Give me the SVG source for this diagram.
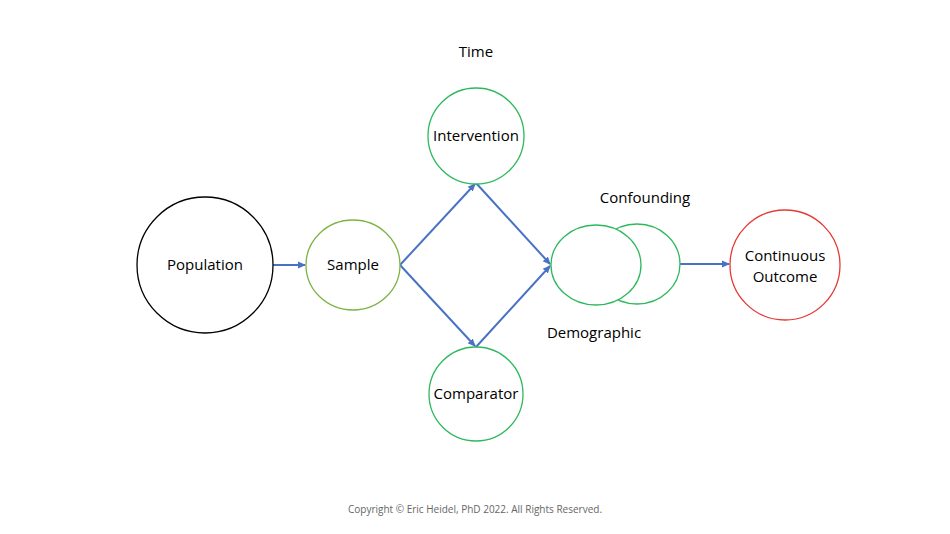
<svg xmlns="http://www.w3.org/2000/svg" width="950" height="534" viewBox="0 0 950 534">
<style>
text{font-family:"Open Sans","Liberation Sans",sans-serif;font-size:15px;fill:#000;text-anchor:middle}
.g{fill:#fff;stroke:#2eb85c;stroke-width:1.3}
.c{stroke:#4a72c4;stroke-width:2;fill:none;marker-end:url(#a)}
</style>
<defs><marker id="a" markerWidth="8" markerHeight="8" refX="7" refY="4" orient="auto" markerUnits="userSpaceOnUse"><path d="M0,0.5 L8,4 L0,7.5z" fill="#4a72c4"/></marker></defs>
<rect width="950" height="534" fill="#fff"/>
<g id="connectors">
<line class="c" x1="273" y1="265" x2="305" y2="265"/>
<line class="c" x1="400" y1="265" x2="475" y2="184"/>
<line class="c" x1="400" y1="265" x2="475" y2="346"/>
<line class="c" x1="476" y1="183" x2="550" y2="264"/>
<line class="c" x1="476" y1="347" x2="550" y2="266"/>
<line class="c" x1="680" y1="264" x2="729" y2="264"/>
</g>
<g id="population"><circle cx="205" cy="265" r="68" fill="#fff" stroke="#000" stroke-width="1.3"/><text x="205" y="270">Population</text></g>
<g id="sample"><ellipse cx="353" cy="265" rx="47" ry="45" fill="#fff" stroke="#7cb342" stroke-width="1.3"/><text x="353" y="270">Sample</text></g>
<g id="intervention"><circle class="g" cx="476" cy="136" r="48"/><text x="476" y="141">Intervention</text></g>
<g id="comparator"><circle class="g" cx="476" cy="394" r="47"/><text x="476" y="399">Comparator</text></g>
<g id="confounding"><ellipse class="g" cx="637" cy="264" rx="43" ry="40"/><ellipse class="g" cx="596" cy="265" rx="45" ry="40"/></g>
<g id="outcome"><circle cx="785" cy="265" r="55" fill="#fff" stroke="#e53935" stroke-width="1.3"/><text x="785" y="261">Continuous</text><text x="785" y="282">Outcome</text></g>
<text x="476" y="57">Time</text>
<text x="645" y="203">Confounding</text>
<text x="594" y="338">Demographic</text>
<text x="475" y="513" style="font-size:10px;fill:#666">Copyright © Eric Heidel, PhD 2022. All Rights Reserved.</text>
</svg>
